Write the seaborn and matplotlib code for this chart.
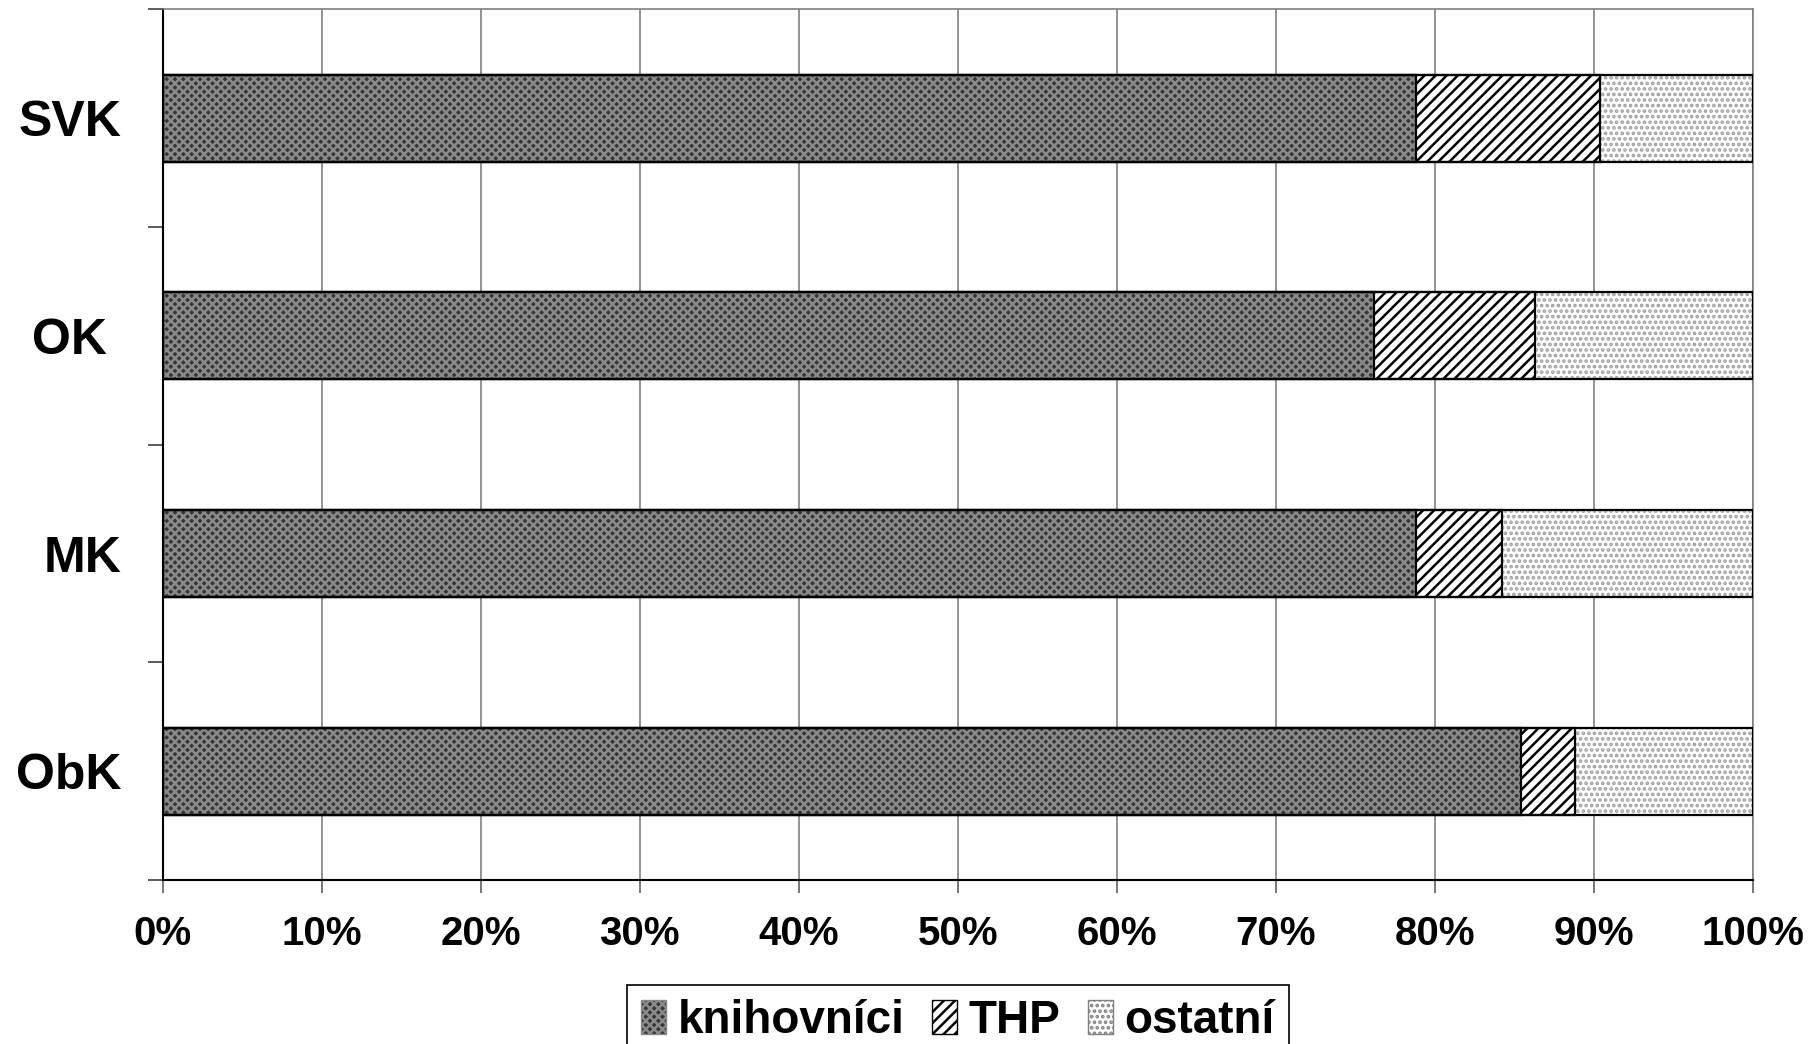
import matplotlib
matplotlib.use('Agg')
import matplotlib.pyplot as plt
import matplotlib.patches as mpatches
from matplotlib.ticker import PercentFormatter, MultipleLocator
import seaborn as sns
import pandas as pd

categories = ['SVK', 'OK ', 'MK', 'ObK']
knihovnici = [78.8, 76.2, 78.8, 85.4]
thp = [11.6, 10.1, 5.4, 3.4]
ostatni = [9.6, 13.7, 15.8, 11.2]
series_labels = ['knihovníci', 'THP', 'ostatní']

sns.set_theme(style='white')
plt.rcParams['font.family'] = ['Liberation Sans', 'DejaVu Sans']
plt.rcParams['font.weight'] = 'bold'
plt.rcParams['hatch.linewidth'] = 1.8
plt.rcParams['text.color'] = 'black'

df = pd.DataFrame({'cat': categories, 'k': knihovnici, 't': thp, 'o': ostatni})
df['c2'] = df['k'] + df['t']
df['c3'] = df['c2'] + df['o']

fig = plt.figure(figsize=(18.14, 10.44), dpi=100)
ax = fig.add_axes([0.0897, 0.157, 0.8766, 0.834])

layers = [('c3', 'white', '...', '#a0a0a0'),
          ('c2', 'white', '///', 'black'),
          ('k', '#363636', 'xxxx', '#8a8a8a')]
for col, face, hatch, hc in layers:
    n0 = len(ax.patches)
    sns.barplot(data=df, x=col, y='cat', orient='h', width=0.4, color=face,
                saturation=1, linewidth=0, errorbar=None, ax=ax, zorder=3)
    for p in ax.patches[n0:]:
        p.set_facecolor(face)
        p.set_hatch(hatch)
        p.set_edgecolor(hc)
        p.set_linewidth(0)
for col in ['c3', 'c2', 'k']:
    sns.barplot(data=df, x=col, y='cat', orient='h', width=0.4, fill=False,
                color='black', linewidth=1.6, errorbar=None, ax=ax, zorder=4)

ax.set_xlim(0, 100)
ax.set_ylim(3.5, -0.5)
ax.xaxis.set_major_locator(MultipleLocator(10))
ax.xaxis.set_major_formatter(PercentFormatter(100, decimals=0))
ax.set_yticks([-0.5, 0.5, 1.5, 2.5, 3.5], minor=True)
ax.set_xlabel('')
ax.set_ylabel('')
ax.set_axisbelow(True)
ax.xaxis.grid(True, color='#808080', linewidth=1.2)
ax.yaxis.grid(False)

ax.tick_params(axis='y', which='major', length=0, pad=30, labelsize=36, labelcolor='black')
ax.tick_params(axis='y', which='minor', left=True, length=11, width=1.2, color='#404040')
ax.tick_params(axis='x', which='major', bottom=True, length=9, width=1.2, color='#606060',
               pad=16, labelsize=29, labelcolor='black')
for lab in ax.get_xticklabels() + ax.get_yticklabels():
    lab.set_fontweight('bold')

for s in ['left', 'bottom']:
    ax.spines[s].set_color('black')
    ax.spines[s].set_linewidth(1.5)
for s in ['top', 'right']:
    ax.spines[s].set_color('#808080')
    ax.spines[s].set_linewidth(1.2)

handles = [
    mpatches.Patch(facecolor='#363636', edgecolor='#8a8a8a', hatch='xxxx', label=series_labels[0]),
    mpatches.Patch(facecolor='white', edgecolor='black', hatch='///', label=series_labels[1]),
    mpatches.Patch(facecolor='white', edgecolor='#808080', hatch='...', label=series_labels[2]),
]
leg = fig.legend(handles=handles, loc='lower center', bbox_to_anchor=(0.528, -0.034), ncol=3,
                 frameon=True, fancybox=False, edgecolor='black', framealpha=1,
                 prop={'size': 33, 'weight': 'bold'}, handlelength=0.55, handleheight=0.75,
                 handletextpad=0.25, columnspacing=0.6, borderpad=0.3, labelcolor='black')
leg.get_frame().set_linewidth(1.2)

fig.savefig('out.png', dpi=100)
